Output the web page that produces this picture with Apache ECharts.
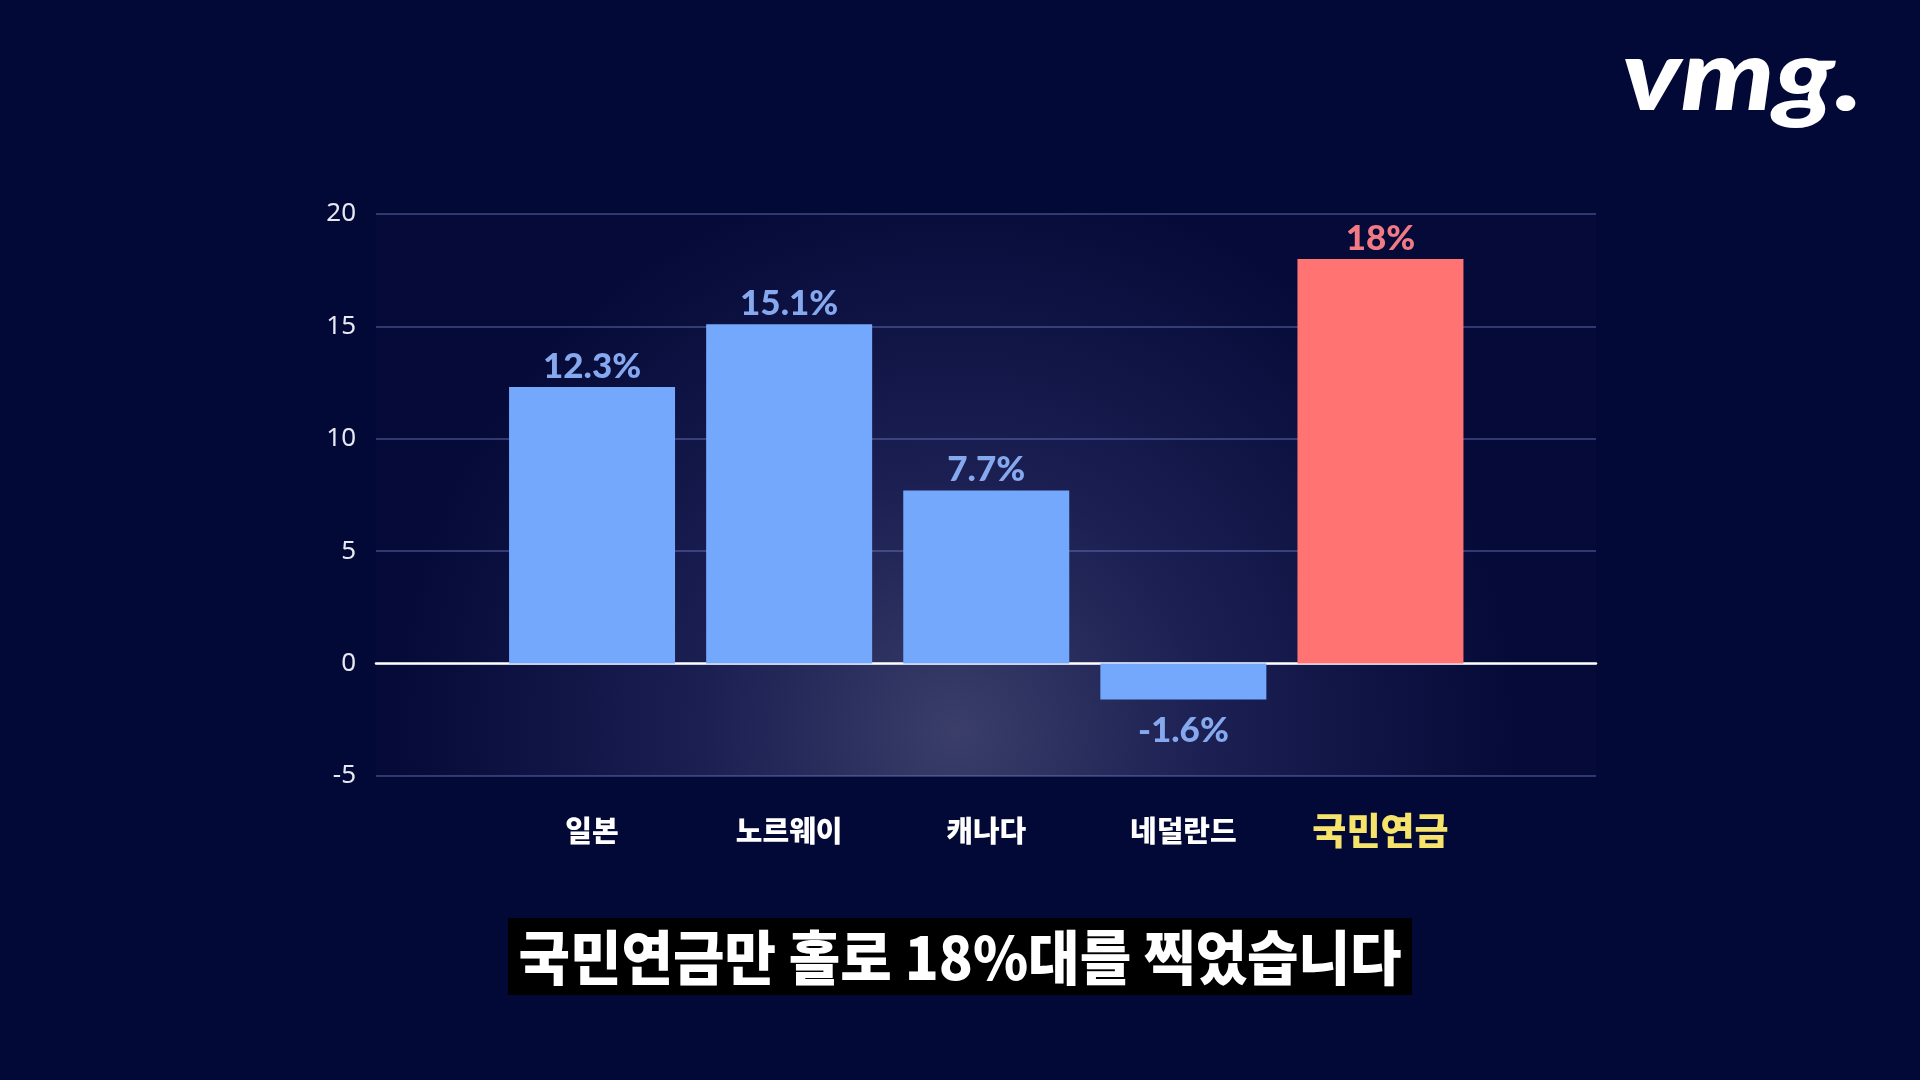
<!DOCTYPE html>
<html>
<head>
<meta charset="utf-8">
<script src="https://cdn.jsdelivr.net/npm/echarts@6/dist/echarts.min.js"></script>
<style>
  html, body { margin: 0; padding: 0; width: 1920px; height: 1080px; background: #030936; overflow: hidden; }
  #chart { width: 1920px; height: 1080px; }
</style>
</head>
<body>
<div id="chart"></div>
<script>
const categories = ['일본', '노르웨이', '캐나다', '네덜란드', '국민연금'];
const values = [12.3, 15.1, 7.7, -1.6, 18];
const highlight = '국민연금';
const yMin = -5;
const yMax = 20;
const yStep = 5;
const caption = '국민연금만 홀로 18%대를 찍었습니다';
const logo = 'vmg.';

const chart = echarts.init(document.getElementById('chart'), null, { renderer: 'canvas' });

const barData = values.map((v, i) => {
  const hi = categories[i] === highlight;
  return {
    value: v,
    itemStyle: { color: hi ? '#ff7373' : '#73a8fd' },
    label: {
      position: v < 0 ? 'bottom' : 'top',
      distance: v < 0 ? 14 : 3,
      color: hi ? '#f07b84' : '#86a8ee'
    }
  };
});

const option = {
  backgroundColor: 'transparent',
  animation: false,
  grid: [
    {
      left: 376, right: 324, top: 214, bottom: 304,
      show: true, borderWidth: 0,
      backgroundColor: {
        type: 'radial', x: 0.475, y: 0.92, r: 1.0,
        colorStops: [
          { offset: 0, color: '#3a3e69' },
          { offset: 0.45, color: '#1b1f52' },
          { offset: 1, color: '#050a38' }
        ]
      }
    },
    { left: 493.5, right: 441, top: 214, bottom: 304 }
  ],
  xAxis: [
    {
      type: 'category', gridIndex: 0, data: [''],
      axisLine: { show: true, onZero: true, lineStyle: { color: '#ffffff', width: 2.5 } },
      axisTick: { show: false }, axisLabel: { show: false }, splitLine: { show: false }
    },
    {
      type: 'category', gridIndex: 1, data: categories,
      axisLine: { show: false, onZero: false }, axisTick: { show: false },
      axisLabel: {
        margin: 33,
        formatter: (v) => v === highlight ? '{hi|' + v + '}' : '{n|' + v + '}',
        rich: {
          n: { fontFamily: 'Noto Sans CJK KR', fontWeight: 900, fontSize: 29, color: '#ffffff', lineHeight: 44 },
          hi: { fontFamily: 'Noto Sans CJK KR', fontWeight: 900, fontSize: 37, color: '#f6e36b', lineHeight: 44 }
        }
      }
    }
  ],
  yAxis: [
    {
      type: 'value', gridIndex: 0, min: yMin, max: yMax, interval: yStep,
      axisLine: { show: false }, axisTick: { show: false },
      axisLabel: { margin: 20, fontFamily: 'Noto Sans', fontSize: 26, color: '#e6e8f2' },
      splitLine: { show: true, lineStyle: { color: 'rgba(120,135,210,0.5)', width: 1.5 } }
    },
    {
      type: 'value', gridIndex: 1, min: yMin, max: yMax, interval: yStep,
      axisLine: { show: false }, axisTick: { show: false },
      axisLabel: { show: false }, splitLine: { show: false }
    }
  ],
  series: [
    {
      type: 'bar', xAxisIndex: 1, yAxisIndex: 1, barWidth: 166,
      data: barData,
      z: 3,
      label: {
        show: true,
        fontFamily: 'Lato', fontWeight: 900, fontSize: 35,
        formatter: (p) => p.value + '%'
      }
    }
  ],
  graphic: [
    {
      type: 'text', x: 1622, y: 28, z: 10, scaleX: 1.18,
      style: { text: logo, fontFamily: 'Lato', fontWeight: 900, fontStyle: 'italic', fontSize: 100, fill: '#ffffff' }
    },
    {
      type: 'rect', shape: { x: 508, y: 918, width: 904, height: 77 }, z: 10,
      style: { fill: '#000000' }
    },
    {
      type: 'text', x: 960, y: 957, z: 11, scaleX: 1.0, scaleY: 1.06,
      style: {
        text: caption, fontFamily: 'Noto Sans CJK KR', fontWeight: 900, fontSize: 56,
        fill: '#ffffff', align: 'center', verticalAlign: 'middle'
      }
    }
  ]
};

chart.setOption(option);
</script>
</body>
</html>
